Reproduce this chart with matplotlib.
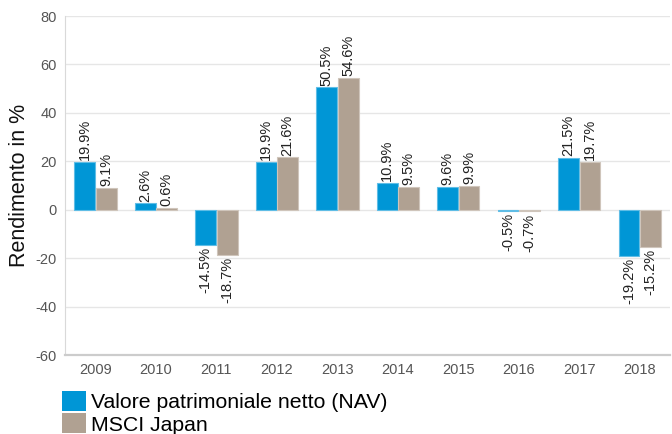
import matplotlib
matplotlib.use("Agg")
import matplotlib.pyplot as plt
import numpy as np
from matplotlib.patches import Patch

plt.rcParams['font.family'] = ['Liberation Sans', 'DejaVu Sans']

years = ['2009', '2010', '2011', '2012', '2013', '2014', '2015', '2016', '2017', '2018']
nav = [19.9, 2.6, -14.5, 19.9, 50.5, 10.9, 9.6, -0.5, 21.5, -19.2]
msci = [9.1, 0.6, -18.7, 21.6, 54.6, 9.5, 9.9, -0.7, 19.7, -15.2]
series_names = ['Valore patrimoniale netto (NAV)', 'MSCI Japan']
colors = ['#0096d6', '#b0a192']
edge_colors = ['#5fbde6', '#cfc5bb']
yticks = [-60, -40, -20, 0, 20, 40, 60, 80]

fig = plt.figure(figsize=(6.72, 4.34), dpi=100)
ax = fig.add_axes([0.097, 0.182, 0.900, 0.781])

x = np.arange(len(years))
w = 0.345
for vals, off, c, ec in [(nav, -w / 2 - 0.005, colors[0], edge_colors[0]),
                         (msci, w / 2 + 0.005, colors[1], edge_colors[1])]:
    ax.bar(x + off, vals, width=w, color=c, edgecolor=ec, linewidth=0.8, zorder=3)
    for xi, v in zip(x + off, vals):
        if v >= 0:
            ax.text(xi, v + 0.8, f'{v:.1f}%', rotation=90, ha='center', va='bottom',
                    fontsize=10.5, color='#222222', zorder=4)
        else:
            ax.text(xi, v - 0.8, f'{v:.1f}%', rotation=90, ha='center', va='top',
                    fontsize=10.5, color='#222222', zorder=4)

ax.set_xlim(-0.5, len(years) - 0.5)
ax.set_ylim(-60, 80)
ax.set_yticks(yticks)
ax.set_yticklabels([str(t) for t in yticks])
ax.set_xticks(x)
ax.set_xticklabels(years)
ax.tick_params(axis='both', length=0, labelsize=10.5, labelcolor='#555555', pad=6)
ax.grid(axis='y', color='#e6e6e6', linewidth=1, zorder=0)
for s in ['top', 'right']:
    ax.spines[s].set_visible(False)
ax.spines['left'].set_color('#d9d9d9')
ax.spines['bottom'].set_color('#cccccc')
ax.spines['bottom'].set_linewidth(1.6)
ax.set_ylabel('Rendimento in %', fontsize=15.5, color='#111111')
ax.yaxis.set_label_coords(-0.058, 0.5)

handles = [Patch(facecolor=colors[0]), Patch(facecolor=colors[1])]
fig.legend(handles, series_names, loc='upper left', bbox_to_anchor=(0.093, 0.1),
           frameon=False, fontsize=15.3, handlelength=1.1, handleheight=1.1,
           handletextpad=0.25, labelspacing=0.05, borderpad=0, borderaxespad=0)

fig.savefig('out.png', dpi=100)
